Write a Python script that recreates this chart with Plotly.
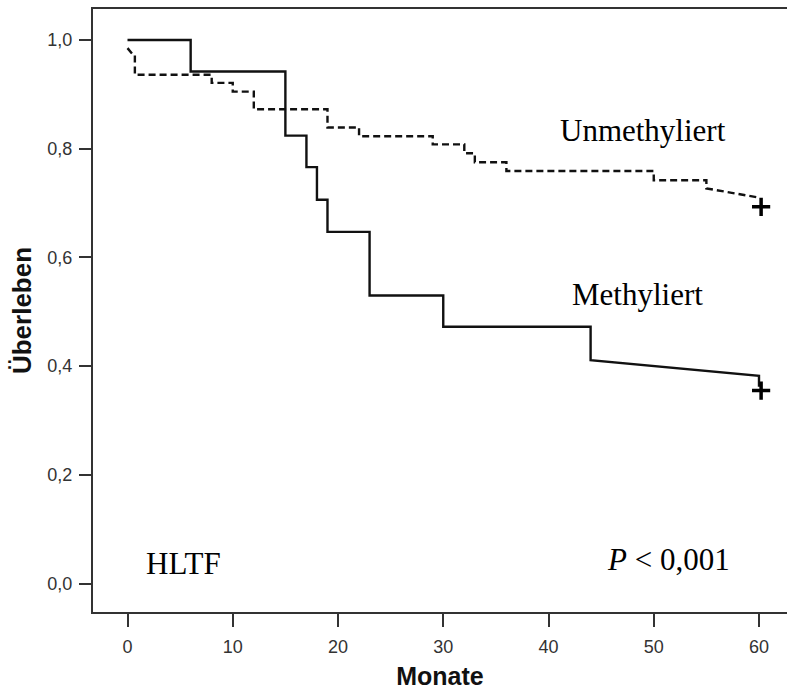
import plotly.graph_objects as go

# ---- data ----
meth_times = [0, 6, 15, 17, 18, 19, 23, 30, 44]
meth_surv = [1.0, 0.942, 0.824, 0.766, 0.706, 0.647, 0.530, 0.4725, 0.411]
meth_end_x = [60, 60]
meth_end_y = [0.382, 0.362]

unmeth_start_x = [0, 0.55, 0.7]
unmeth_start_y = [0.985, 0.972, 0.972]
unmeth_times = [0.7, 8, 10, 12, 19, 22, 29, 32, 33, 36, 50, 55]
unmeth_surv = [0.936, 0.921, 0.905, 0.8725, 0.839, 0.823, 0.808, 0.7915, 0.775, 0.759, 0.742, 0.727]
unmeth_end_x = [60]
unmeth_end_y = [0.710]

censor_x = [60.2, 60.2]
censor_y = [0.355, 0.693]

x_ticks = [0, 10, 20, 30, 40, 50, 60]
y_ticks = [0.0, 0.2, 0.4, 0.6, 0.8, 1.0]
y_ticklabels = ["0,0", "0,2", "0,4", "0,6", "0,8", "1,0"]


def step_xy(times, surv):
    xs, ys = [], []
    for i, (t, s) in enumerate(zip(times, surv)):
        if i > 0:
            xs.append(t)
            ys.append(surv[i - 1])
        xs.append(t)
        ys.append(s)
    return xs, ys


mx, my = step_xy(meth_times, meth_surv)
mx += meth_end_x
my += meth_end_y

ux, uy = step_xy(unmeth_times, unmeth_surv)
ux = unmeth_start_x + ux + unmeth_end_x
uy = unmeth_start_y + uy + unmeth_end_y

fig = go.Figure()
fig.add_trace(go.Scatter(x=ux, y=uy, mode="lines",
                         line=dict(color="#111", width=2.4, dash="7px,4px"),
                         name="Unmethyliert", showlegend=False))
fig.add_trace(go.Scatter(x=mx, y=my, mode="lines",
                         line=dict(color="#111", width=2.4),
                         name="Methyliert", showlegend=False))
fig.add_trace(go.Scatter(x=censor_x, y=censor_y, mode="markers",
                         marker=dict(symbol="cross-thin", size=13,
                                     line=dict(color="black", width=3.5)),
                         showlegend=False))

serif = "Liberation Serif, Times New Roman, serif"
ann = [
    dict(x=49.0, y=0.834, text="Unmethyliert"),
    dict(x=48.5, y=0.531, text="Methyliert"),
    dict(x=5.34, y=0.036, text="HLTF"),
    dict(x=51.4, y=0.045, text="<i>P</i> < 0,001"),
]
for a in ann:
    fig.add_annotation(x=a["x"], y=a["y"], text=a["text"], showarrow=False,
                       xanchor="center", yanchor="middle",
                       font=dict(family=serif, size=31, color="black"))

sans = "Liberation Sans, Arial, sans-serif"
fig.update_layout(
    width=787, height=693,
    margin=dict(l=93, r=0, t=9, b=81),
    paper_bgcolor="white", plot_bgcolor="white",
    xaxis=dict(range=[-3.278, 62.66], tickvals=x_ticks,
               ticktext=[str(v) for v in x_ticks],
               showgrid=False, zeroline=False,
               showline=True, linecolor="#333", linewidth=2, mirror=True,
               ticks="outside", ticklen=13, tickwidth=2, tickcolor="#333",
               tickfont=dict(family=sans, size=18, color="#333"),
               ticklabelstandoff=4,
               title=dict(text="<b>Monate</b>", standoff=12,
                          font=dict(family=sans, size=25, color="#111"))),
    yaxis=dict(range=[-0.0524, 1.057], tickvals=y_ticks, ticktext=y_ticklabels,
               showgrid=False, zeroline=False,
               showline=True, linecolor="#333", linewidth=2,
               ticks="outside", ticklen=12, tickwidth=2, tickcolor="#333",
               tickfont=dict(family=sans, size=18, color="#333"),
               ticklabelstandoff=3,
               title=dict(text="<b>Überleben</b>", standoff=8,
                          font=dict(family=sans, size=26, color="#111"))),
)

fig.write_html("out.html")
